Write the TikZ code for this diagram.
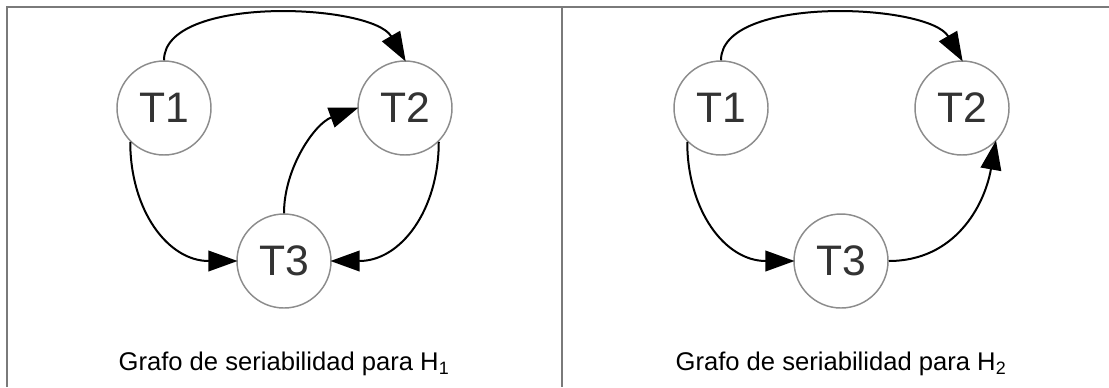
\documentclass[tikz,border=0pt]{standalone}
\usepackage{fontspec}
\setmainfont{Liberation Sans}
\usetikzlibrary{arrows.meta}
\definecolor{framegray}{HTML}{7A7A7A}
\definecolor{ringgray}{HTML}{8C8C8C}
\definecolor{labelgray}{HTML}{333333}
\tikzset{
  txnode/.style={circle, draw=ringgray, line width=1.1pt, fill=white,
    minimum size=70.5pt, inner sep=0pt, text=labelgray,
    font=\fontsize{32}{32}\selectfont},
  edge/.style={line width=1.5pt, black,
    -{Triangle[length=22pt,width=15.5pt]}, shorten >=-1pt},
  frame/.style={framegray, line width=1.1pt},
  caption/.style={anchor=base, font=\fontsize{19.2}{21}\selectfont}
}
\begin{document}
\begin{tikzpicture}[x=0.75pt,y=-0.75pt]
  \useasboundingbox (0,0) rectangle (1109,387);

  % table frame
  \coordinate (tl) at (7,7);
  \coordinate (tr) at (1109,7);
  \coordinate (bl) at (7,387);
  \coordinate (mt) at (562,7);
  \coordinate (mb) at (562,387);
  \draw[frame] (bl) -- (tl) -- (tr);
  \draw[frame] (mt) -- (mb);

  % first schedule
  \node[txnode] (a1) at (164,108) {T1};
  \node[txnode] (a2) at (405,108) {T2};
  \node[txnode] (a3) at (284,261) {T3};
  \draw[edge] (a1.north) to[out=90,in=120,looseness=0.7] (a2.north);
  \draw[edge] (a1.-135) to[out=-90,in=180,looseness=1.1] (a3.west);
  \draw[edge] (a2.-45) to[out=-90,in=0,looseness=1.1] (a3.east);
  \draw[edge] (a3.north) to[out=90,in=200,looseness=0.9] (a2.west);
  \node[caption] (c1) at (284,370) {Grafo de seriabilidad para H\textsubscript{1}};

  % second schedule
  \node[txnode] (b1) at (721,108) {T1};
  \node[txnode] (b2) at (962,108) {T2};
  \node[txnode] (b3) at (841,261) {T3};
  \draw[edge] (b1.north) to[out=90,in=120,looseness=0.7] (b2.north);
  \draw[edge] (b1.-135) to[out=-90,in=180,looseness=1.1] (b3.west);
  \draw[edge] (b3.east) to[out=0,in=-100,looseness=1.05] (b2.-45);
  \node[caption] (c2) at (841,370) {Grafo de seriabilidad para H\textsubscript{2}};
\end{tikzpicture}
\end{document}
